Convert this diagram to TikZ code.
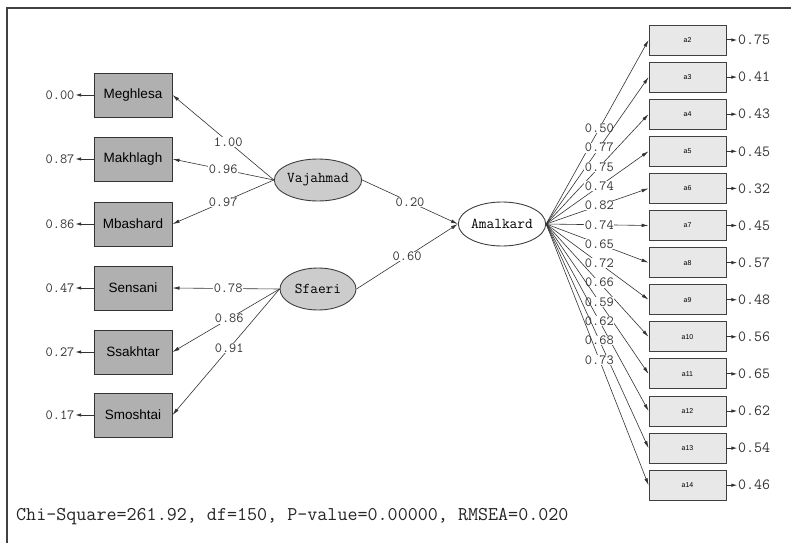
\documentclass[tikz,border=0pt]{standalone}
\usepackage{fontspec}
\setmainfont{Liberation Sans}
\usetikzlibrary{arrows.meta,shapes.geometric,calc}
\begin{document}
\begin{tikzpicture}[x=1pt,y=-1pt,
  obs/.style={draw=black!80, fill=gray!62, line width=1pt, minimum width=78pt, minimum height=44pt, inner sep=0pt, font=\fontsize{13.5}{15}\selectfont},
  item/.style={draw=black!75, fill=gray!18, line width=0.9pt, minimum width=77pt, minimum height=30pt, inner sep=0pt, font=\fontsize{7}{8}\selectfont},
  lat/.style={ellipse, draw=black!75, fill=gray!40, line width=0.9pt, minimum width=76pt, minimum height=42pt, inner sep=0pt, font=\ttfamily\fontsize{15}{16}\selectfont},
  num/.style={font=\ttfamily\fontsize{14}{15}\selectfont, inner sep=0.5pt, text=black!80},
  bignum/.style={font=\ttfamily\fontsize{15.5}{16}\selectfont, inner sep=0.5pt, text=black!80},
  lbl/.style={num, fill=white},
  pth/.style={draw=black!80, line width=0.6pt, -{Latex[length=7pt,width=3.5pt]}},
  err/.style={draw=black!80, line width=1pt, -{Latex[length=6pt,width=3.5pt]}}
]
\useasboundingbox (0,0) rectangle (791,543);
\fill[white] (0,0) rectangle (791,543);
% frame
\draw[black!75, line width=1.5pt] (7,543) -- (7,8) -- (791,8);

% left observed variables
\node[obs] (meg) at (133,95) {Meghlesa};
\node[obs] (mak) at (133,159) {Makhlagh};
\node[obs] (mba) at (133,224) {Mbashard};
\node[obs] (sen) at (133,288) {Sensani};
\node[obs] (ssa) at (133,352) {Ssakhtar};
\node[obs] (smo) at (133,415) {Smoshtai};

% left error terms
\node[num] (emeg) at (60,95) {0.00};
\node[num] (emak) at (60,159) {0.87};
\node[num] (emba) at (60,224) {0.86};
\node[num] (esen) at (60,288) {0.47};
\node[num] (essa) at (60,352) {0.27};
\node[num] (esmo) at (60,415) {0.17};
\foreach \b/\e in {meg/emeg,mak/emak,mba/emba,sen/esen,ssa/essa,smo/esmo}
  \draw[err] (\b.west) -- (\e.east);

% latent variables
\node[lat] (vaj) at (318,180) {Vajahmad};
\node[lat] (sfa) at (318,289) {Sfaeri};
\node[lat, fill=white, minimum width=80pt, minimum height=44pt] (ama) at (502,224) {Amalkard};

% loadings left
\draw[pth] (vaj.west) -- node[lbl,pos=0.45] (l1) {1.00} (meg.east);
\draw[pth] (vaj.west) -- node[lbl,pos=0.50] (l2) {0.96} (mak.east);
\draw[pth] (vaj.west) -- node[lbl,pos=0.50] (l3) {0.97} (mba.east);
\draw[pth] (sfa.west) -- node[lbl,pos=0.48] (l4) {0.78} (sen.east);
\draw[pth] (sfa.west) -- node[lbl,pos=0.47] (l5) {0.86} (ssa.east);
\draw[pth] (sfa.west) -- node[lbl,pos=0.47] (l6) {0.91} (smo.east);

% structural paths
\draw[pth] (vaj.east) -- node[lbl] (s1) {0.20} (ama.west);
\draw[pth] (sfa.east) -- node[lbl] (s2) {0.60} (ama.west);

% right items
\foreach \n [count=\i from 0] in {2,3,4,5,6,7,8,9,10,11,12,13,14} {
  \node[item] (a\n) at (687.5,40+37.1*\i) {a\n};
}
% right errors
\foreach \n/\v in {2/0.75,3/0.41,4/0.43,5/0.45,6/0.32,7/0.45,8/0.57,9/0.48,10/0.56,11/0.65,12/0.62,13/0.54,14/0.46} {
  \node[bignum, anchor=west] (e\n) at ($(a\n.east)+(11,0)$) {\v};
  \draw[err] (a\n.east) -- (e\n.west);
}
% loadings right
\foreach \n/\v in {2/0.50,3/0.77,4/0.75,5/0.74,6/0.82,7/0.74,8/0.65,9/0.72,10/0.66,11/0.59,12/0.62,13/0.68,14/0.73} {
  \draw[pth] (ama.east) -- node[lbl,pos=0.52] (r\n) {\v} (a\n.west);
}

% fit statistics
\node[anchor=west, font=\ttfamily\fontsize{19.5}{21}\selectfont, text=black!85, inner sep=0pt] (fit) at (16,517) {Chi-Square=261.92, df=150, P-value=0.00000, RMSEA=0.020};
\end{tikzpicture}
\end{document}
